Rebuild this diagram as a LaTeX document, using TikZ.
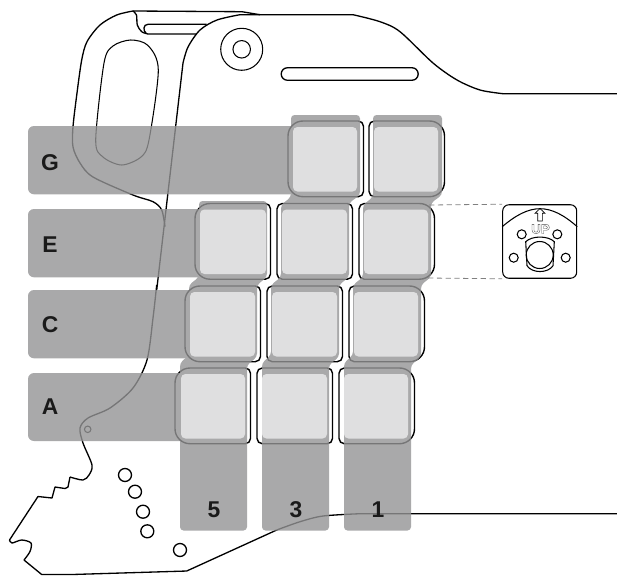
\documentclass[tikz,border=0pt]{standalone}
\usepackage{fontspec}
\setsansfont{Liberation Sans}
\usetikzlibrary{positioning}
\definecolor{bandgray}{HTML}{949495}
\definecolor{keygray}{HTML}{DFDFE0}
\definecolor{labelblack}{HTML}{1A1A1A}
\tikzstyle{bodyline}  = [line width=0.75pt, line join=round]
\tikzstyle{thinline}  = [line width=0.6pt]
\tikzstyle{keyline}   = [line width=0.8pt]
\tikzstyle{hole}      = [thinline, circle, draw, inner sep=0pt]
\tikzstyle{bigletter} = [font=\sffamily\bfseries\fontsize{13}{14}\selectfont, text=labelblack, inner sep=0pt]
\tikzstyle{keytop}    = [fill=keygray, rounded corners=2.5pt]
\tikzstyle{panel}     = [draw, thinline, rounded corners=3.5pt, minimum width=1.48cm, minimum height=1.47cm, inner sep=0pt]
\tikzstyle{leader}    = [densely dashed, line width=0.45pt, draw=black!50]
\begin{document}
\begin{tikzpicture}[
        x=0.02cm,
        y=-0.02cm
    ]
        \useasboundingbox (0,0) rectangle (617,575);

        % Rear body
        \draw[bodyline] plot[smooth] coordinates {(133,11) (116.7,15) (100,25) (87,41.7) (81.7,60) (77,93) (73,126.7) (73,147) (80,163) (93,177) (133,195) (153,201.7) (161.7,210) (165,226.7)};
        \draw[bodyline] (260,14.7) -- (241.7,11.7) -- (133,11);
        \draw[bodyline] plot[smooth] coordinates {(133,11) (136.5,15) (137.3,25) (141.7,31.7) (148,34)} -- (196.7,34);
        \draw[bodyline] (206.7,24.3) -- (148,24.3) .. controls (143,24.3) and (143,31) .. (146,33);

        % Slot in the rear body
        \draw[thinline] plot[smooth cycle] coordinates {(130.7,40) (148,45.5) (158.3,70) (149,140) (141,157) (121.7,165) (103,157) (95.7,140) (104,63) (113,46)};

        % Front body
        \draw[bodyline] plot[smooth] coordinates {(156.7,285) (153,318) (147,360) (133,388) (110,408) (88,418) (80,428) (83,443) (92,465) (89,475) (83,480) (70,477)};
        \draw[bodyline] (156.7,290) -- (183,63);
        \draw[bodyline] plot[smooth] coordinates {(183,63) (188,47) (200,30) (217,20) (240,14.7)} -- (353,14.7);
        \draw[bodyline] plot[smooth] coordinates {(353,14.7) (380,21.7) (400,31.7) (433,63) (457,80) (480,90) (503,93.7)} -- (617,93.7);
        \draw[bodyline] (70,477) -- (68,487) -- (65,488.5) -- (55,487) -- (52,498) -- (38,496.5) -- (9.5,540);
        \draw[bodyline] plot[smooth] coordinates {(9.5,540) (12,543) (21.7,540) (31,543) (30,551.5) (24,560)} -- (41.7,574.5) -- (72,574.5) -- (186.7,571) -- (276.7,530);
        \draw[bodyline] plot[smooth] coordinates {(276.7,530) (300,521.7) (323,516) (360,513.7)} -- (617,513.7);

        % Holes and strap slot
        \node[hole, minimum size=0.84cm] (knobout) at (241.7,49.3) {};
        \node[hole, minimum size=0.35cm] (knobin) at (241.7,49.3) {};
        \node[bodyline, draw, rounded corners=3.5pt, minimum width=2.74cm, minimum height=0.25cm, inner sep=0pt] (strap) at (349.7,74) {};
        \node[hole, minimum size=0.26cm, line width=0.75pt] (h1) at (125,475) {};
        \node[hole, minimum size=0.26cm, line width=0.75pt] (h2) at (135,491.7) {};
        \node[hole, minimum size=0.26cm, line width=0.75pt] (h3) at (143,511.7) {};
        \node[hole, minimum size=0.26cm, line width=0.75pt] (h4) at (147.3,531.3) {};
        \node[hole, minimum size=0.26cm, line width=0.75pt] (h5) at (180,550) {};
        \node[hole, minimum size=0.13cm] (h6) at (87.7,429.3) {};

        % Key outlines
        \foreach \kx/\ky/\rl/\rr in {
            288/121/8.5pt/3pt, 369/121/3pt/8.5pt,
            195/203.5/8.5pt/3pt, 277/203.5/3pt/3pt, 359/203.5/3pt/8.5pt,
            185/286/8.5pt/3pt, 267/286/3pt/3pt, 349/286/3pt/8.5pt,
            175/368/8.5pt/3pt, 257/368/3pt/3pt, 339/368/3pt/8.5pt} {
            \draw[keyline] (\kx+37,\ky) [rounded corners=\rr] -- (\kx+75.5,\ky) -- (\kx+75.5,\ky+75.7) -- (\kx+37,\ky+75.7) [rounded corners=\rl] -- (\kx,\ky+75.7) -- (\kx,\ky) -- cycle;
        }

        % Bands for strings and fingers
        \begin{scope}[transparency group, opacity=0.8]
            \fill[bandgray, rounded corners=3.4pt] (28,126) rectangle (300,194.3);
            \fill[bandgray, rounded corners=3.4pt] (28,209) rectangle (210,277.3);
            \fill[bandgray, rounded corners=3.4pt] (28,290) rectangle (200,358.3);
            \fill[bandgray, rounded corners=3.4pt] (28,373) rectangle (190,441);
            \fill[bandgray, rounded corners=2pt] (262,530.5) -- (262,363) -- (271,355) -- (271,285) -- (281,277) -- (281,205) -- (291,197) -- (291,115) -- (360,115) -- (360,195) -- (349,203) -- (349,277) -- (339,285) -- (339,357) -- (329,365) -- (329,530.5) -- cycle;
            \fill[bandgray, rounded corners=2pt] (180,530.5) -- (180,363) -- (189,355) -- (189,285) -- (199,277) -- (199,201) -- (267,201) -- (267,277) -- (257,285) -- (257,357) -- (247,365) -- (247,530.5) -- cycle;
            \fill[bandgray, rounded corners=2pt] (344,530.5) -- (344,363) -- (353,355) -- (353,285) -- (363,277) -- (363,205) -- (373,197) -- (373,115) -- (442,115) -- (442,195) -- (431,203) -- (431,277) -- (421,285) -- (421,357) -- (411,365) -- (411,530.5) -- cycle;
        \end{scope}

        % Key tops
        \foreach \kx/\ky/\kw in {
            293/127/64, 374/127/64,
            200/209.5/66, 282/209.5/65, 364/209.5/64,
            190/292/65, 272/292/65, 354/292/64,
            181/374/64, 262/374/65, 344/374/64} {
            \fill[keytop] (\kx,\ky) rectangle (\kx+\kw,\ky+64.5);
        }

        % Labels
        \node[bigletter] (lg) at (50,163) {G};
        \node[bigletter] (le) at (50,244.5) {E};
        \node[bigletter] (lc) at (50,325) {C};
        \node[bigletter] (la) at (50,406.5) {A};
        \node[bigletter] (l5) at (214,510) {5};
        \node[bigletter] (l3) at (296,510) {3};
        \node[bigletter] (l1) at (378,510) {1};

        % Inset with the UP plate
        \node[panel] (plate) at (539.7,241.5) {};
        \coordinate (leadtop) at (429,205);
        \coordinate (leadbot) at (428,278);
        \draw[leader] (leadtop) -- (plate.north west);
        \draw[leader] (leadbot) -- (plate.south west);
        \draw[thinline] (plate.west |- 0,226.7) .. controls (516,215) and (528,208.7) .. (540,208.7) .. controls (552,208.7) and (564,215) .. (plate.east |- 0,226.7);
        \draw[line width=0.35pt] (537.7,221) -- (537.7,213.3) -- (535,213.3) -- (540,208.5) -- (545,213.3) -- (542.3,213.3) -- (542.3,221) -- cycle;
        \node[font=\sffamily\bfseries\fontsize{7.6}{8}\selectfont, text=black!70, inner sep=0pt] (uplabel) at (540.5,229) {\special{pdf:code 1 Tr 0.2 w}UP\special{pdf:code 0 Tr}};
        \node[hole, minimum size=0.18cm] (p1) at (521.7,234.3) {};
        \node[hole, minimum size=0.18cm] (p2) at (557.3,234.3) {};
        \node[hole, minimum size=0.18cm] (p3) at (513.7,257.7) {};
        \node[hole, minimum size=0.18cm] (p4) at (565.7,257.7) {};
        \node[hole, minimum size=0.54cm] (stick) at (539.7,255) {};
        \draw[thinline] (525.7,241.7) .. controls (532,235.5) and (548,235.5) .. (554.3,241.7) -- (553,265.7) .. controls (548,273.5) and (532,273.5) .. (527,265.7) -- cycle;

    \end{tikzpicture}
\end{document}
